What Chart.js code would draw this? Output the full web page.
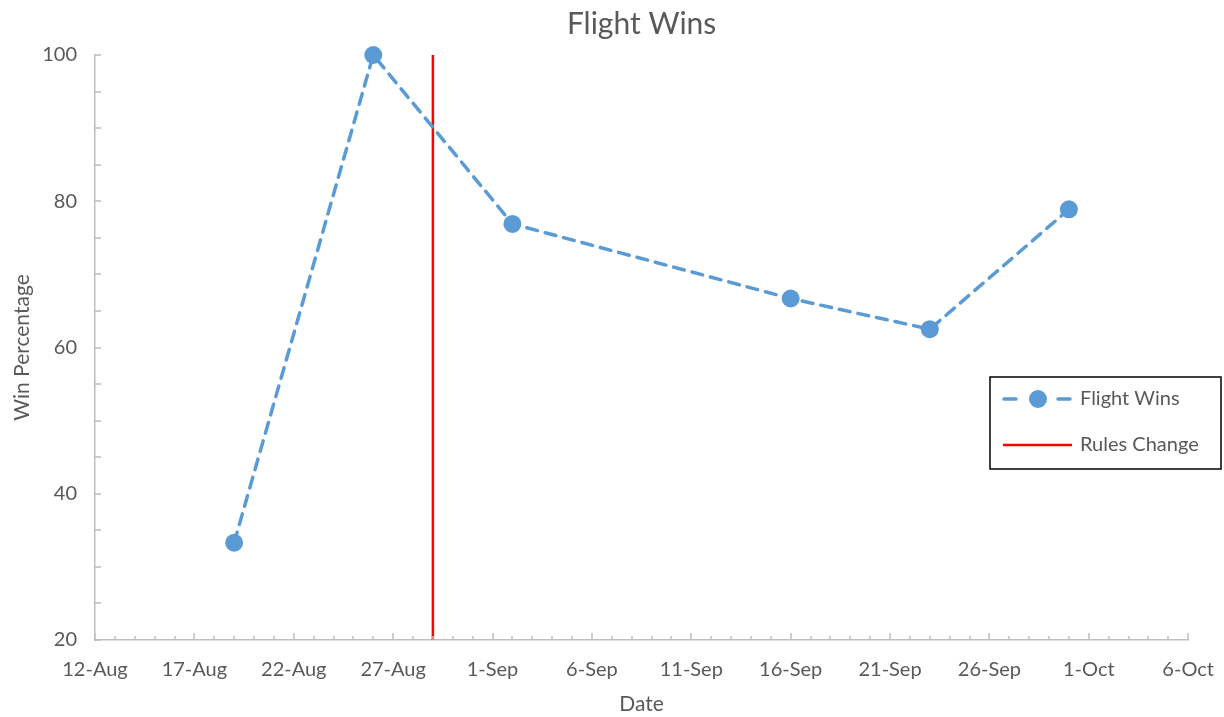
<!DOCTYPE html>
<html>
<head>
<meta charset="utf-8">
<script src="https://cdn.jsdelivr.net/npm/chart.js@4"></script>
<style>
  html, body { margin: 0; padding: 0; background: #fff; }
  #wrap { width: 1224px; height: 717px; }
</style>
</head>
<body>
<div id="wrap"><canvas id="myChart" width="1224" height="717"></canvas></div>
<script>
// data
const winDates = ['19-Aug', '26-Aug', '2-Sep', '16-Sep', '23-Sep', '30-Sep'];
const winPct = [33.3, 100, 76.9, 66.7, 62.5, 78.9];
const rulesDate = '29-Aug';
const rulesRange = [20, 100];
const xStart = '12-Aug';
const xEnd = '6-Oct';

const monthNames = ['Jan', 'Feb', 'Mar', 'Apr', 'May', 'Jun', 'Jul', 'Aug', 'Sep', 'Oct', 'Nov', 'Dec'];
const baseDate = new Date(2021, 7, 12);

// "19-Aug" -> days since 12-Aug
function dayOf(label) {
    let parts = label.split('-');
    let d = new Date(2021, monthNames.indexOf(parts[1]), parseInt(parts[0]));
    return Math.round((d - baseDate) / 86400000);
}
function labelOf(day) {
    let d = new Date(2021, 7, 12 + day);
    return d.getDate() + '-' + monthNames[d.getMonth()];
}

const textColor = '#595959';
const axisColor = '#bfbfbf';
const blue = '#5b9bd5';
const fontFamily = 'Lato, "Open Sans", sans-serif';

// inward tick marks like Excel
const tickMarks = {
    id: 'tickMarks',
    afterDraw(chart) {
        let ctx = chart.ctx;
        let xs = chart.scales.x, ys = chart.scales.y;
        ctx.save();
        ctx.strokeStyle = axisColor;
        ctx.lineWidth = 1.5;
        ctx.beginPath();
        xs.ticks.forEach(t => {
            let px = Math.round(xs.getPixelForValue(t.value));
            let len = t.value % 5 === 0 ? 7 : 4;
            ctx.moveTo(px, ys.bottom);
            ctx.lineTo(px, ys.bottom - len);
        });
        ys.ticks.forEach(t => {
            let py = Math.round(ys.getPixelForValue(t.value));
            ctx.moveTo(xs.left, py);
            ctx.lineTo(xs.left + 6, py);
        });
        ctx.stroke();
        ctx.restore();
    }
};

// boxed legend on the right
const boxLegend = {
    id: 'boxLegend',
    afterDraw(chart) {
        let ctx = chart.ctx;
        let x0 = 990, y0 = 377, w = 231, h = 92;
        ctx.save();
        ctx.fillStyle = '#fff';
        ctx.fillRect(x0, y0, w, h);
        ctx.strokeStyle = '#000';
        ctx.lineWidth = 1.5;
        ctx.strokeRect(x0, y0, w, h);
        ctx.font = '20px ' + fontFamily;
        ctx.textBaseline = 'middle';
        chart.data.datasets.forEach((ds, i) => {
            let cy = y0 + 22 + i * 46;
            ctx.strokeStyle = ds.borderColor;
            ctx.lineWidth = ds.borderWidth;
            ctx.setLineDash([]);
            ctx.lineCap = ds.borderDash ? 'round' : 'butt';
            ctx.beginPath();
            if (ds.borderDash) {
                ctx.moveTo(x0 + 14, cy); ctx.lineTo(x0 + 26, cy);
                ctx.moveTo(x0 + 68, cy); ctx.lineTo(x0 + 80, cy);
            } else {
                ctx.moveTo(x0 + 13, cy); ctx.lineTo(x0 + 82, cy);
            }
            ctx.stroke();
            if (ds.pointRadius > 0) {
                ctx.fillStyle = ds.pointBackgroundColor;
                ctx.beginPath();
                ctx.arc(x0 + 48, cy, ds.pointRadius, 0, Math.PI * 2);
                ctx.fill();
            }
            ctx.fillStyle = textColor;
            ctx.fillText(ds.label, x0 + 90, cy);
        });
        ctx.restore();
    }
};

new Chart(document.getElementById('myChart'), {
    type: 'line',
    data: {
        datasets: [{
            label: 'Flight Wins',
            data: winDates.map((d, i) => ({ x: dayOf(d), y: winPct[i] })),
            borderColor: blue,
            borderWidth: 3.5,
            borderDash: [11, 8],
            borderCapStyle: 'round',
            pointRadius: 9,
            pointBackgroundColor: blue,
            pointBorderColor: blue,
            pointBorderWidth: 0,
            clip: false,
            tension: 0
        }, {
            label: 'Rules Change',
            data: rulesRange.map(v => ({ x: dayOf(rulesDate), y: v })),
            borderColor: '#ff0000',
            borderWidth: 2.5,
            pointRadius: 0,
            clip: false,
            tension: 0
        }]
    },
    options: {
        responsive: false,
        animation: false,
        events: [],
        layout: { padding: { top: 6, right: 23, left: 6, bottom: 0 } },
        plugins: {
            legend: { display: false },
            tooltip: { enabled: false },
            title: {
                display: true,
                fullSize: false,
                text: 'Flight Wins',
                color: textColor,
                font: { family: fontFamily, size: 30, weight: 'normal' },
                padding: { top: 0, bottom: 13 }
            }
        },
        scales: {
            x: {
                type: 'linear',
                min: dayOf(xStart),
                max: dayOf(xEnd),
                grid: { display: false },
                border: { color: axisColor, width: 1.5 },
                afterFit: s => { s.height = 77; },
                ticks: {
                    stepSize: 1,
                    autoSkip: false,
                    maxRotation: 0,
                    padding: 10,
                    color: textColor,
                    font: { family: fontFamily, size: 20 },
                    callback: v => (v % 5 === 0 ? labelOf(v) : '')
                },
                title: {
                    display: true,
                    text: 'Date',
                    color: textColor,
                    font: { family: fontFamily, size: 21 },
                    padding: { top: 0, bottom: 0 }
                }
            },
            y: {
                min: 20,
                max: 100,
                grid: { display: false },
                border: { color: axisColor, width: 1.5 },
                afterFit: s => { s.width = 89; },
                ticks: {
                    stepSize: 5,
                    autoSkip: false,
                    padding: 10,
                    color: textColor,
                    font: { family: fontFamily, size: 20 },
                    callback: v => (v % 20 === 0 ? v : '')
                },
                title: {
                    display: true,
                    text: 'Win Percentage',
                    color: textColor,
                    font: { family: fontFamily, size: 21 },
                    padding: { bottom: 4 }
                }
            }
        }
    },
    plugins: [tickMarks, boxLegend]
});
</script>
</body>
</html>
